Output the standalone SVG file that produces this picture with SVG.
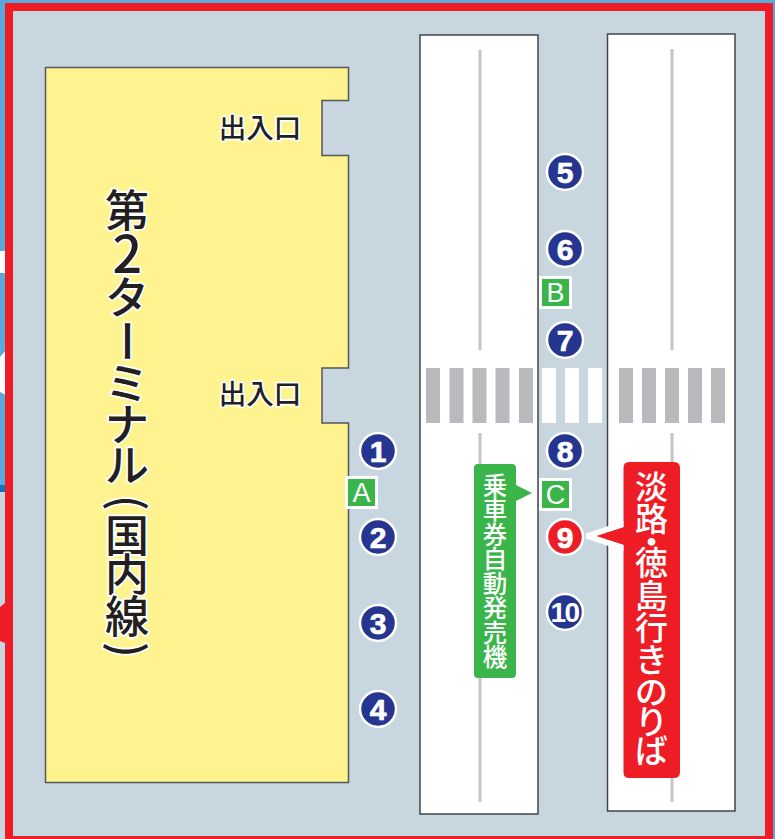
<svg xmlns="http://www.w3.org/2000/svg" width="775" height="839" viewBox="0 0 775 839">
<style>
.cjk{font-family:"Noto Sans CJK JP","Liberation Sans",sans-serif}
.lat{font-family:"Liberation Sans",Arial,sans-serif}
.v{writing-mode:vertical-rl;text-orientation:upright;text-anchor:start}
.wl{fill:#fff;font-weight:500}
.pad{fill:#fff;stroke:#444549;stroke-width:1.5}
.lane{stroke:#c3c4c6;stroke-width:3;fill:none}
.gb{fill:#b9babd}
.wb{fill:#fff}
.stop{fill:#26358f;stroke:#fff;stroke-width:2.5}
.stopr{fill:#ee1c25;stroke:#fff;stroke-width:2.5}
.num{fill:#fff;stroke:#fff;stroke-width:.7px;font-weight:700;font-size:30px;text-anchor:middle}
.sq{fill:#39b54a;stroke:#fff;stroke-width:3}
.sql{fill:#fff;font-size:27px;text-anchor:middle}
.door{font-size:27.500px;font-weight:500;fill:#231f20;stroke:#fff;stroke-width:3.5px;paint-order:stroke;stroke-linejoin:round;text-anchor:middle}
</style>
<g id="background">
<rect width="775" height="839" fill="#5aa9dd"/>
<rect x="0" y="251" width="6" height="22" fill="#fff"/>
<polygon points="0,357 6,350 6,395 0,392" fill="#fff"/>
<rect x="0" y="485" width="6" height="7" fill="#0a77bd"/>
<rect x="0" y="492" width="6" height="347" fill="#c8d7df"/>
<polygon points="0,607 5,603 5,643 0,641" fill="#ee1c25"/>
<rect x="9" y="7" width="760" height="833" fill="#c8d7df" stroke="#ee1c25" stroke-width="8"/>
</g>
<g id="terminal">
<path d="M45.500 67.500H348.500V100.500H322V155.500H348.500V368H322V423H348.500V782.500H45.500Z" fill="#fff38f" stroke="#555659" stroke-width="1.500"/>
<text class="cjk" font-size="44" font-weight="500" fill="#231f20" stroke="#fff" stroke-width="3.500" paint-order="stroke" stroke-linejoin="round"><tspan x="105" y="227">第</tspan><tspan x="112.500" y="273" font-size="52">2</tspan><tspan x="105" y="314">タ</tspan><tspan x="110" y="319" rotate="90">ー</tspan><tspan x="105" y="400">ミ</tspan><tspan x="105" y="441">ナ</tspan><tspan x="105" y="482">ル</tspan><tspan x="112" y="495" rotate="90">(</tspan><tspan x="105" y="552">国</tspan><tspan x="105" y="591">内</tspan><tspan x="105" y="633">線</tspan><tspan x="112" y="642" rotate="90">)</tspan></text>
</g>
<g id="door-1"><text class="cjk door" x="260" y="138">出入口</text></g>
<g id="door-2"><text class="cjk door" x="260" y="404">出入口</text></g>
<g id="platform-left">
<rect class="pad" x="420" y="35" width="118" height="779"/>
<path class="lane" d="M480 50V350M480 433V470M480 672V802"/>
</g>
<g id="platform-right">
<rect class="pad" x="607.500" y="34" width="127.500" height="777"/>
<path class="lane" d="M672 49V350M672 433V470M672 770V802"/>
</g>
<g id="crosswalk">
<rect class="gb" x="426" y="368" width="14" height="55"/>
<rect class="gb" x="449.500" y="368" width="14" height="55"/>
<rect class="gb" x="472.500" y="368" width="14" height="55"/>
<rect class="gb" x="495.500" y="368" width="14" height="55"/>
<rect class="gb" x="519" y="368" width="14" height="55"/>
<rect class="wb" x="542" y="368" width="14" height="55"/>
<rect class="wb" x="565" y="368" width="14" height="55"/>
<rect class="wb" x="588" y="368" width="14" height="55"/>
<rect class="gb" x="619" y="368" width="14" height="55"/>
<rect class="gb" x="642" y="368" width="14" height="55"/>
<rect class="gb" x="665" y="368" width="14" height="55"/>
<rect class="gb" x="688" y="368" width="14" height="55"/>
<rect class="gb" x="711" y="368" width="14" height="55"/>
</g>
<g id="stop-1"><circle class="stop" cx="378" cy="451" r="18"/><text class="lat num" x="378" y="462">1</text></g>
<g id="stop-2"><circle class="stop" cx="378" cy="537" r="18"/><text class="lat num" x="378" y="548">2</text></g>
<g id="stop-3"><circle class="stop" cx="378" cy="623" r="18"/><text class="lat num" x="378" y="634">3</text></g>
<g id="stop-4"><circle class="stop" cx="378" cy="709" r="18"/><text class="lat num" x="378" y="720">4</text></g>
<g id="stop-5"><circle class="stop" cx="565" cy="172" r="18"/><text class="lat num" x="565" y="183">5</text></g>
<g id="stop-6"><circle class="stop" cx="565" cy="249" r="18"/><text class="lat num" x="565" y="260">6</text></g>
<g id="stop-7"><circle class="stop" cx="565" cy="340" r="18"/><text class="lat num" x="565" y="351">7</text></g>
<g id="stop-8"><circle class="stop" cx="565" cy="451" r="18"/><text class="lat num" x="565" y="462">8</text></g>
<g id="stop-9"><circle class="stopr" cx="565" cy="537" r="18"/><text class="lat num" x="565" y="548">9</text></g>
<g id="stop-10"><circle class="stop" cx="565" cy="612" r="18"/><text class="lat num" x="564.500" y="622" style="font-size:28px;letter-spacing:-1.500px;stroke-width:0">10</text></g>
<g id="marker-a"><rect class="sq" x="346.500" y="477.500" width="30" height="30"/><text class="lat sql" x="361.500" y="502">A</text></g>
<g id="marker-b"><rect class="sq" x="540.500" y="277.500" width="30" height="30"/><text class="lat sql" x="555.500" y="302">B</text></g>
<g id="marker-c"><rect class="sq" x="540.500" y="479.500" width="30" height="30"/><text class="lat sql" x="555.500" y="504">C</text></g>
<g id="ticket-machine">
<path d="M478 464H512Q516 464 516 468V485L532 493L516 501V674Q516 678 512 678H478Q474 678 474 674V468Q474 464 478 464Z" fill="#39b54a"/>
<text class="cjk v wl" x="495" y="473" font-size="24.500">乗車券自動発売機</text>
</g>
<g id="boarding-label">
<path d="M629 462H674Q680 462 680 468V772Q680 778 674 778H629Q623.500 778 623.500 772V545L596 536L623.500 527V468Q623.500 462 629 462Z" fill="#ee1c25"/>
<polygon points="586,533.500 623.500,521 623.500,527 596,536 623.500,545 623.500,551 586,538.500" fill="#fff"/>
<text class="cjk wl" font-size="33" x="635 635 635 635 635 635 635 635 635 635" y="499 531 554 575 608 640 672 704 734 763">淡路・徳島行きのりば</text>
</g>
</svg>
